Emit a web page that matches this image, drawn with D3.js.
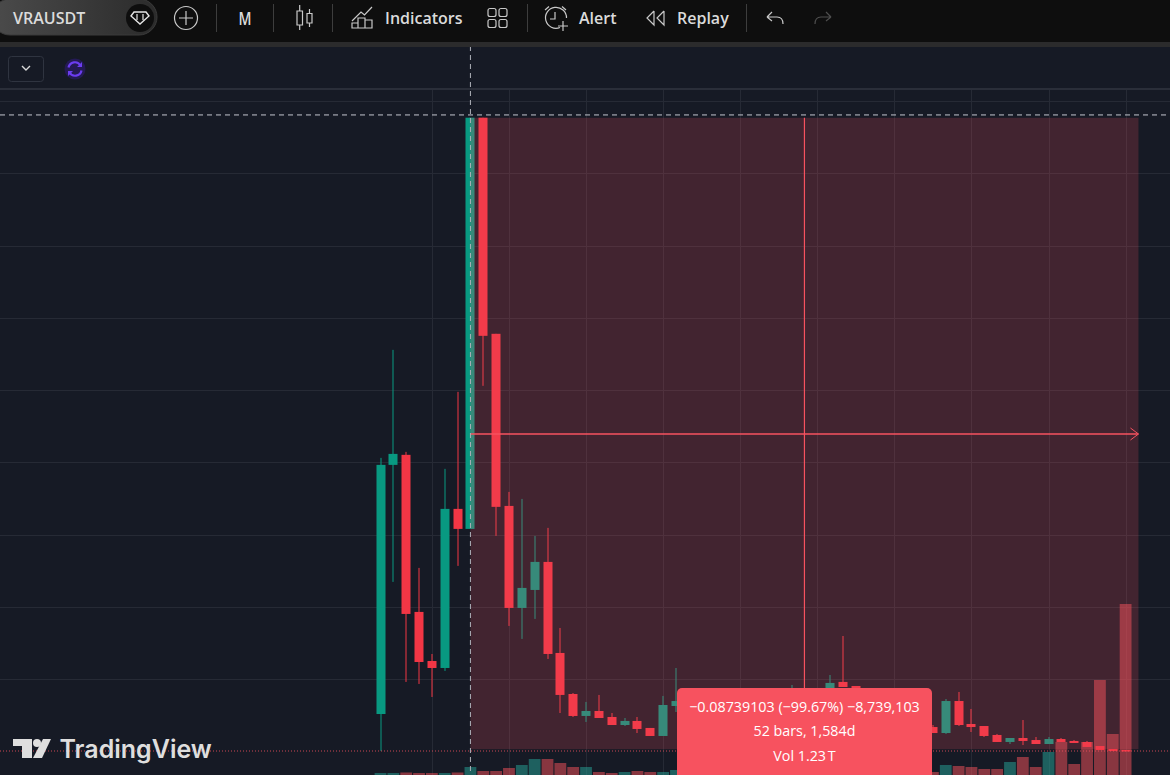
<!DOCTYPE html>
<html>
<head>
<meta charset="utf-8">
<title>VRAUSDT</title>
<script src="https://cdn.jsdelivr.net/npm/d3@7"></script>
<style>
  html, body { margin: 0; padding: 0; background: #161a25; overflow: hidden; }
  svg { display: block; }
  text { font-family: "Open Sans", "Noto Sans", sans-serif; }
</style>
</head>
<body>
<svg id="chart" width="1170" height="775"></svg>
<script>
// monthly bars, null = hidden behind the measure tooltip
var opens = [.00516,.03964,.04103,.01929,.01250,.01153,.03355,.03078,.08769,.05778,.03396,.01984,.02233,.02621,.01361,.00793,.00489,.00558,.00475,.00364,.00420,.00323,.00212,.00627,
  null,null,null,null,null,null,null,null,.00780,null,null,.00876,.00960,.00904,null,null,null,null,null,
  .00336,.00253,.00696,.00378,.00350,.00226,.00129,.00184,.00156,.00101,.00170,.00143,.00129,.00073,.00032,.00018];
var highs = [.04061,.05556,.04144,.02538,.01347,.03909,.04975,.08769,.08769,.05778,.03590,.03493,.02981,.03092,.01707,.00807,.00683,.00780,.00530,.00461,.00475,.00323,.00766,.01153,
  null,null,null,null,null,null,null,null,.00918,null,null,.01056,.01596,.00904,null,null,null,null,null,
  .00364,.00724,.00821,.00586,.00350,.00240,.00184,.00433,.00198,.00198,.00184,.00156,.00143,.00073,.00032,.00018];
var lows = [.00004,.02344,.00960,.00932,.00752,.01112,.02566,.03078,.05058,.02981,.01735,.01555,.01832,.01278,.00530,.00475,.00406,.00461,.00364,.00350,.00253,.00212,.00212,.00544,
  null,null,null,null,null,null,null,null,.00780,null,null,.00876,.00890,.00821,null,null,null,null,null,
  .00253,.00240,.00350,.00267,.00198,.00129,.00101,.00087,.00101,.00101,.00129,.00115,.00060,.00018,.00004,.00004];
var closes = [.03964,.04116,.01901,.01236,.01153,.03355,.03078,.08769,.05750,.03383,.01984,.02261,.02621,.01347,.00780,.00489,.00558,.00461,.00364,.00420,.00309,.00212,.00641,.00696,
  null,null,null,null,null,null,null,null,.00849,null,null,.00946,.00890,.00821,null,null,null,null,null,
  .00253,.00696,.00364,.00336,.00212,.00129,.00184,.00143,.00101,.00170,.00129,.00115,.00060,.00018,.00004,.00004];
// volume in billions
var volumes = [6,6,7,6,6,6,7,18,10,10,16,22,34,34,26,18,18,8,6,8,10,8,8,12,
  null,null,null,null,null,null,null,null,null,null,null,null,null,null,null,null,null,null,null,
  8,22,20,18,14,14,28,38,18,48,68,24,68,192,84,344];

var lastPrice = .00004;
var measureStart = 7;
var measureEnd = 59;
var measureFrom = .08768;
var measureTo = .00029;
var crosshairPrice = .08807;
var tooltipLines = ["\u22120.08739103 (\u221299.67%) \u22128,739,103", "52 bars, 1,584d", "Vol 1.23\u202FT"];

var width = 1170, height = 775;
var colors = {
  bg: "#161a25", toolbar: "#0e0e0e", strip: "#2b2b2c", grid: "#262a35", sep: "#2a2e39",
  up: "#089981", down: "#f23645", measure: "#f7525f", icon: "#c9c9c9", text: "#dbdbdb"
};

var svg = d3.select("#chart");
var x = d3.scaleLinear().domain([0, 58]).range([380.5, 1125.6]);
var y = d3.scaleLinear().domain([0, .09]).range([751.3, 101]);
var yVol = d3.scaleLinear().domain([0, 344]).range([776, 604]);

svg.append("rect").attr("width", width).attr("height", height).attr("fill", colors.bg);

// grid, every 6 bars and every 0.01
var gridG = svg.append("g").attr("shape-rendering", "crispEdges");
gridG.selectAll("line.v").data(d3.range(4, 60, 6)).enter().append("line")
  .attr("x1", function (d) { return Math.round(x(d)) + .5; })
  .attr("x2", function (d) { return Math.round(x(d)) + .5; })
  .attr("y1", 89).attr("y2", height).attr("stroke", colors.grid);
gridG.selectAll("line.h").data(d3.range(.01, .095, .01)).enter().append("line")
  .attr("x1", 0).attr("x2", width)
  .attr("y1", function (d) { return Math.round(y(d)) + .5; })
  .attr("y2", function (d) { return Math.round(y(d)) + .5; })
  .attr("stroke", colors.grid);
gridG.append("rect").attr("x", 0).attr("y", 88).attr("width", width).attr("height", 2).attr("fill", colors.sep);

var bars = opens.map(function (o, i) {
  return { i: i, o: o, h: highs[i], l: lows[i], c: closes[i], v: volumes[i] };
});

// volume
svg.append("g").selectAll("rect").data(bars.filter(function (d) { return d.v !== null; })).enter().append("rect")
  .attr("x", function (d) { return x(d.i) - 5.9; })
  .attr("width", 11.8)
  .attr("y", function (d) { return yVol(d.v); })
  .attr("height", function (d) { return yVol(0) - yVol(d.v); })
  .attr("fill", function (d, k) {
    return d.c >= d.o ? "rgba(38,166,154,.5)" : "rgba(242,80,90,.52)";
  });

// candles
var candles = svg.append("g").selectAll("g").data(bars.filter(function (d) { return d.o !== null; })).enter().append("g")
  .attr("fill", function (d) { return d.c >= d.o ? colors.up : colors.down; });
candles.append("rect")
  .attr("x", function (d) { return Math.round(x(d.i)) - .5; })
  .attr("width", 1)
  .attr("y", function (d) { return y(d.h); })
  .attr("height", function (d) { return y(d.l) - y(d.h); });
candles.append("rect")
  .attr("x", function (d) { return Math.round(x(d.i)) - 4.5; })
  .attr("width", 9)
  .attr("y", function (d) { return y(Math.max(d.o, d.c)); })
  .attr("height", function (d) { return Math.max(1.5, Math.abs(y(d.o) - y(d.c))); });

// measure box
var boxX0 = x(measureStart), boxX1 = x(measureEnd), boxY0 = y(measureFrom), boxY1 = y(measureTo);
var boxMidX = (boxX0 + boxX1) / 2, boxMidY = Math.round((boxY0 + boxY1) / 2) + 1;
svg.append("rect").attr("x", boxX0).attr("y", boxY0).attr("width", boxX1 - boxX0).attr("height", boxY1 - boxY0)
  .attr("fill", "rgba(247,82,95,.2)");
var measureG = svg.append("g").attr("stroke", colors.measure).attr("fill", "none");
measureG.append("line").attr("x1", boxMidX).attr("x2", boxMidX).attr("y1", boxY0).attr("y2", boxY1).attr("stroke-width", 1.2);
measureG.append("line").attr("x1", boxX0).attr("x2", boxX1).attr("y1", boxMidY).attr("y2", boxMidY).attr("stroke-width", 1.4);
measureG.append("path").attr("d", d3.line()([[boxX1 - 8, boxMidY - 6], [boxX1, boxMidY], [boxX1 - 8, boxMidY + 6]]));

// last price line
svg.append("line").attr("x1", 0).attr("x2", width).attr("y1", y(lastPrice)).attr("y2", y(lastPrice))
  .attr("stroke", "#f7525f").attr("stroke-opacity", .8).attr("stroke-dasharray", "1 2");

// crosshair
svg.append("line").attr("x1", x(measureStart)).attr("x2", x(measureStart)).attr("y1", 46).attr("y2", height)
  .attr("stroke", "#aeb1b9").attr("stroke-dasharray", "5 4");
svg.append("line").attr("x1", 0).attr("x2", width).attr("y1", y(crosshairPrice)).attr("y2", y(crosshairPrice))
  .attr("stroke", "#c4c7cf").attr("stroke-dasharray", "5 4");

// tooltip
var tip = svg.append("g");
tip.append("rect").attr("x", 677).attr("y", 688).attr("width", 255).attr("height", 100).attr("rx", 5).attr("fill", colors.measure);
tip.selectAll("text").data(tooltipLines).enter().append("text")
  .attr("x", 804.5)
  .attr("y", function (d, i) { return 711.7 + i * 24.5; })
  .attr("text-anchor", "middle").attr("fill", "#fff").attr("font-size", 14.3)
  .text(function (d) { return d; });

// toolbar
var bar = svg.append("g");
bar.append("rect").attr("width", width).attr("height", 42).attr("fill", colors.toolbar);
bar.append("rect").attr("y", 42).attr("width", width).attr("height", 5).attr("fill", colors.strip);

var pill = svg.append("defs").append("linearGradient").attr("id", "pillFill");
pill.append("stop").attr("offset", "0%").attr("stop-color", "#4b4b4b");
pill.append("stop").attr("offset", "100%").attr("stop-color", "#2b2b2b");
bar.append("rect").attr("x", -8).attr("y", -1).attr("width", 165).attr("height", 36).attr("rx", 18)
  .attr("fill", "url(#pillFill)").attr("stroke", "#3a3a3a");
bar.append("text").attr("x", 13).attr("y", 24).attr("font-size", 16).attr("font-weight", 600).attr("fill", colors.text).text("VRAUSDT");
bar.append("circle").attr("cx", 140).attr("cy", 18).attr("r", 14).attr("fill", "#0e0e0e");
bar.append("path").attr("d", "M134 12H146L149 16L140 24L131 16Z").attr("fill", "none").attr("stroke", "#e5e5e5").attr("stroke-width", 1.4);
bar.append("path").attr("d", "M137 14V20M143 14V20").attr("stroke", "#e5e5e5").attr("stroke-width", 1.2);

bar.selectAll("line.sep").data([216, 273, 332, 527, 746]).enter().append("line")
  .attr("x1", function (d) { return d + .5; }).attr("x2", function (d) { return d + .5; })
  .attr("y1", 4).attr("y2", 32).attr("stroke", "#3d3d3d");

var icons = bar.append("g").attr("fill", "none").attr("stroke", colors.icon).attr("stroke-width", 1.2);
icons.append("circle").attr("cx", 186).attr("cy", 18).attr("r", 11.5);
icons.append("path").attr("d", "M186 11V25M179 18H193");
// candles icon
icons.append("path").attr("d", "M297 11H302.5V25H297ZM299.7 5V11M299.7 25V30M307 13.5H312V23H307ZM309.5 9V13.5M309.5 23V27");
// indicators icon
icons.append("path").attr("d", "M352 21L361 12L364.5 15L372 7M352 28V23H358V28ZM358 28V18H365V28ZM365 28V20H372V28Z");
// layouts icon
icons.selectAll("rect.cell").data([[488, 8.5], [499, 8.5], [488, 19.5], [499, 19.5]]).enter().append("rect")
  .attr("x", function (d) { return d[0]; }).attr("y", function (d) { return d[1]; })
  .attr("width", 8).attr("height", 8).attr("rx", 2);
// alert icon
icons.append("path").attr("d", "M560 27.5A10.5 10.5 0 1 1 566.5 18M555 12V19H550M545 10L549 6.5M562 6.5L566 10M563 21V31M558 26H568");
// replay icon
icons.append("path").attr("d", "M654 11L647 18L654 25V11M664 11L657 18L664 25V11");
// undo / redo
icons.append("path").attr("d", "M767 17L772 12M767 17L772 21M767 17H777C781 17 783 20 783 24");
icons.append("path").attr("stroke", "#4e4e4e").attr("d", "M831 17L826 12M831 17L826 21M831 17H821C817 17 815 20 815 24");

bar.append("text").attr("x", 238.5).attr("y", 24.5).attr("font-size", 18).attr("font-weight", 600)
  .attr("textLength", 13).attr("lengthAdjust", "spacingAndGlyphs").attr("fill", colors.text).text("M");
[["Indicators", 385], ["Alert", 579], ["Replay", 677]].forEach(function (d) {
  bar.append("text").attr("x", d[1]).attr("y", 23.5).attr("font-size", 16).attr("font-weight", 600).attr("fill", colors.text).text(d[0]);
});

// second row
var row = svg.append("g");
row.append("rect").attr("x", 8.5).attr("y", 56.5).attr("width", 35).attr("height", 25).attr("rx", 3)
  .attr("fill", "none").attr("stroke", "#2f3440");
row.append("path").attr("d", "M22 66L26 70L30 66").attr("fill", "none").attr("stroke", "#d8d8d8").attr("stroke-width", 1.4);
row.append("circle").attr("cx", 75).attr("cy", 69).attr("r", 10.5).attr("fill", "#241a54");
row.append("path").attr("d", "M68.5 67.5A6.5 6.5 0 0 1 80.5 65.5M81.5 70.5A6.5 6.5 0 0 1 69.5 72.5")
  .attr("fill", "none").attr("stroke", "#6b3df0").attr("stroke-width", 2.2);
row.append("path").attr("d", "M82 62V67H77ZM68 76V71H73Z").attr("fill", "#6b3df0");

// logo
var logo = svg.append("g").attr("fill", "#dedede");
logo.append("path").attr("d", "M13 739H32V758H22V746H13Z");
logo.append("circle").attr("cx", 37).attr("cy", 743).attr("r", 4);
logo.append("path").attr("d", "M43 739H51L42 758H33Z");
logo.append("text").attr("x", 59.5).attr("y", 758).attr("font-size", 25).attr("font-weight", 600)
  .style("font-family", "Inter, sans-serif").text("TradingView");
</script>
</body>
</html>
